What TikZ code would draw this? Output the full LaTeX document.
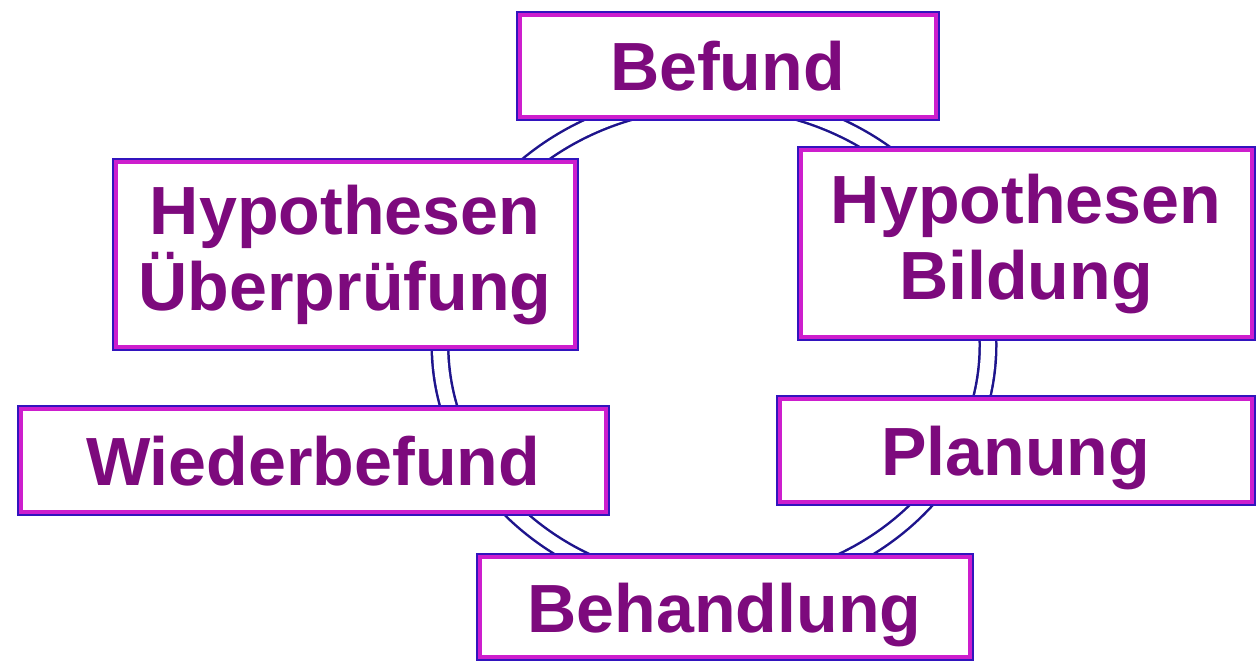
\documentclass[tikz,border=0pt]{standalone}
\usepackage{fontspec}
\setmainfont{Liberation Sans}
\usetikzlibrary{positioning}
\definecolor{ringblue}{RGB}{30,20,140}
\definecolor{frameblue}{RGB}{50,20,190}
\definecolor{framepink}{RGB}{205,30,205}
\definecolor{stepviolet}{RGB}{125,10,125}

\begin{document}
\begin{tikzpicture}[
        stage/.style={rectangle,draw=framepink,line width=0.04cm,fill=white,
          preaction={draw=frameblue,line width=0.08cm},
          inner sep=0pt,align=center,text=stepviolet,
          font=\fontsize{19.4}{21.5}\selectfont\bfseries},
        oneline/.style={text height=0.49cm,text depth=0pt},
        cycle ring/.style={draw=ringblue,line width=0.025cm,double=white,double distance=0.14cm}]
        \useasboundingbox (0,0) rectangle (12.56,6.67);
        % ring behind the stages
        \coordinate (mid) at (7.14,3.22);
        \draw[cycle ring] (mid) ellipse [x radius=2.74cm,y radius=2.45cm];
        \node[stage,oneline,minimum width=4.16cm,minimum height=1.02cm] (befund) at (7.275,6.005) {Befund};
        \node[stage,minimum width=4.59cm,minimum height=1.85cm] (hypcheck) at (3.45,4.12) {Hypothesen\\Überprüfung};
        \node[stage,minimum width=4.51cm,minimum height=1.87cm] (hypbuild) at (10.26,4.23) {Hypothesen\\Bildung};
        \node[stage,oneline,minimum width=5.85cm,minimum height=1.03cm] (rebefund) at (3.13,2.06) {Wiederbefund};
        \node[stage,oneline,minimum width=4.72cm,minimum height=1.03cm] (plan) at (10.155,2.16) {Planung};
        \node[stage,oneline,minimum width=4.90cm,minimum height=1.00cm] (treat) at (7.245,0.595) {Behandlung};
      \end{tikzpicture}
\end{document}
